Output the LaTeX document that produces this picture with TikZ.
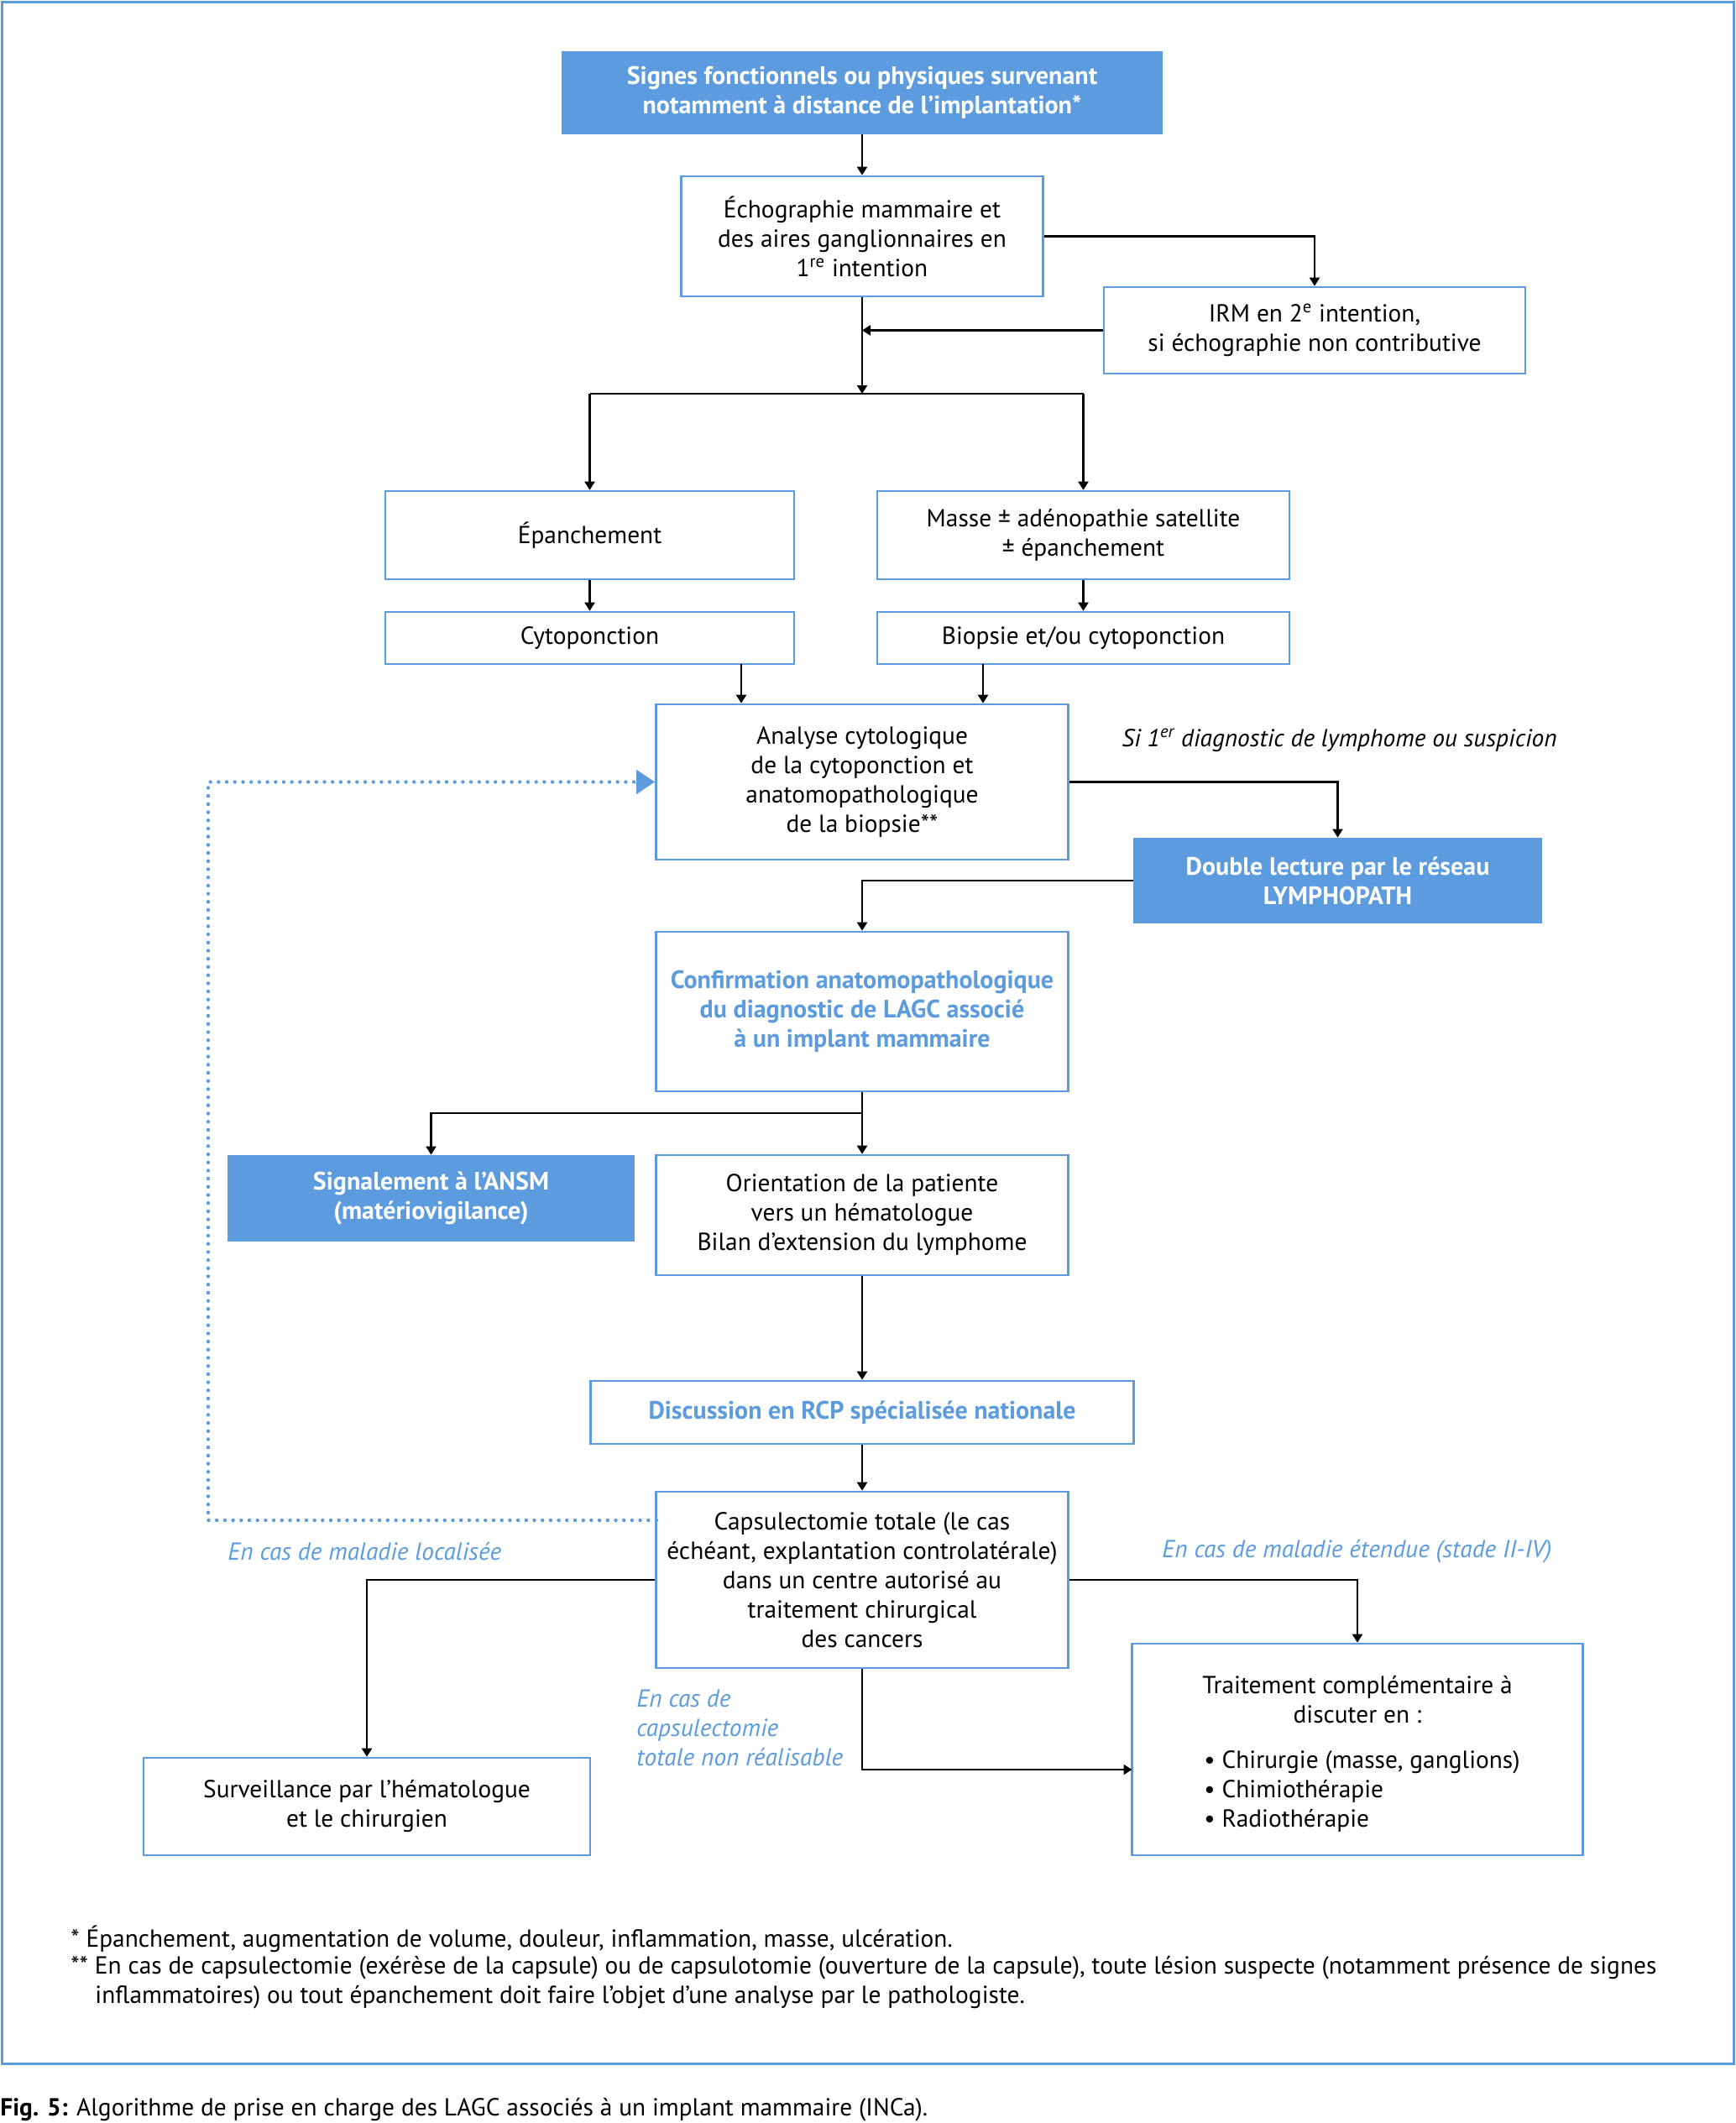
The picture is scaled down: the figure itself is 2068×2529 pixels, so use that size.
\documentclass[tikz,border=0pt]{standalone}
\usepackage{fontspec}
\setmainfont{PT Sans}
\usetikzlibrary{arrows.meta,calc}
\definecolor{bl}{HTML}{5B9BDE}
\begin{document}
\begin{tikzpicture}[x=0.5pt,y=-0.5pt,
  font=\fontsize{14.7}{17.5}\selectfont,
  sz/.style 2 args={minimum width=#1*0.5pt, minimum height=#2*0.5pt},
  wbox/.style={draw=bl, line width=1.3pt, fill=white, align=center, inner sep=0pt},
  bbox/.style={fill=bl, text=white, font=\fontsize{15}{17.5}\selectfont\bfseries, align=center, inner sep=0pt},
  btext/.style={text=bl, font=\fontsize{15}{17.5}\selectfont\bfseries},
  arr/.style={-{Triangle[length=5pt,width=6pt]}, line width=1.1pt},
  ln/.style={line width=1.1pt},
  lbl/.style={text=bl, font=\fontsize{14.7}{17.5}\selectfont\itshape, inner sep=0pt, align=left},
  plain/.style={inner sep=0pt, align=left},
  dotl/.style={draw=bl, line width=2.2pt, line cap=round, dash pattern=on 0pt off 4.85pt, -{Triangle[length=11pt,width=14pt,fill=bl]}},
]
\useasboundingbox (0,0) rectangle (2068,2529);
\draw[bl, line width=1.5pt] (2,2) rectangle (2065,2458);

% nodes
\node[bbox, sz={716}{99}] (top) at (1027,110.5) {Signes fonctionnels ou physiques survenant\\notamment à distance de l’implantation*};
\node[wbox, sz={431}{143}] (echo) at (1027,281.5) {Échographie mammaire et\\des aires ganglionnaires en\\1\textsuperscript{re} intention};
\node[wbox, sz={502}{103}] (irm) at (1566,393.5) {IRM en 2\textsuperscript{e} intention,\\si échographie non contributive};
\node[wbox, sz={487}{105}] (epan) at (702.5,637.5) {Épanchement};
\node[wbox, sz={491}{105}] (masse) at (1290.5,637.5) {Masse ± adénopathie satellite\\± épanchement};
\node[wbox, sz={487}{62}] (cyto) at (702.5,760) {Cytoponction};
\node[wbox, sz={491}{62}] (biop) at (1290.5,760) {Biopsie et/ou cytoponction};
\node[wbox, sz={491}{185}] (analyse) at (1027,931.5) {Analyse cytologique\\de la cytoponction et\\anatomopathologique\\de la biopsie**};
\node[plain, anchor=west, font=\fontsize{14.7}{17.5}\selectfont\itshape] (si) at (1336,882) {Si 1\textsuperscript{er} diagnostic de lymphome ou suspicion};
\node[bbox, sz={487}{102}] (dl) at (1593.5,1049) {Double lecture par le réseau\\LYMPHOPATH};
\node[wbox, sz={491}{190}, btext] (conf) at (1027,1205) {Confirmation anatomopathologique\\du diagnostic de LAGC associé\\à un implant mammaire};
\node[bbox, sz={485}{103}] (sig) at (513.5,1427.5) {Signalement à l’ANSM\\(matériovigilance)};
\node[wbox, sz={491}{143}] (orient) at (1027,1447.5) {Orientation de la patiente\\vers un hématologue\\Bilan d’extension du lymphome};
\node[wbox, sz={647}{75}, btext] (disc) at (1027,1682.5) {Discussion en RCP spécialisée nationale};
\node[wbox, sz={491}{210}] (caps) at (1027,1882) {Capsulectomie totale (le cas\\échéant, explantation controlatérale)\\dans un centre autorisé au\\traitement chirurgical\\des cancers};
\node[lbl, anchor=west] (loc) at (271,1848.5) {En cas de maladie localisée};
\node[lbl, anchor=west] (ete) at (1384,1848.5) {En cas de maladie étendue (stade II-IV)};
\node[lbl, anchor=north west] (nonr) at (758,2012) {En cas de\\capsulectomie\\totale non réalisable};
\node[wbox, sz={532}{116}] (surv) at (437,2152) {Surveillance par l’hématologue\\et le chirurgien};
\node[wbox, sz={537}{252}] (trait) at (1617,2084) {};
\node[plain, align=center] (traitt) at (1617,2025) {Traitement complémentaire à\\discuter en :};
\node[plain, anchor=west] (traitb) at (1434,2134) {• Chirurgie (masse, ganglions)\\• Chimiothérapie\\• Radiothérapie};

% footnotes
\node[plain, anchor=west] (fn1) at (84,2310) {* Épanchement, augmentation de volume, douleur, inflammation, masse, ulcération.};
\node[plain, anchor=west] (fn2) at (84,2344) {** En cas de capsulectomie (exérèse de la capsule) ou de capsulotomie (ouverture de la capsule), toute lésion suspecte (notamment présence de signes};
\node[plain, anchor=west] (fn3) at (113,2379) {inflammatoires) ou tout épanchement doit faire l’objet d’une analyse par le pathologiste.};
\node[plain, anchor=west] (cap) at (0,2513) {\textbf{Fig. 5:} Algorithme de prise en charge des LAGC associés à un implant mammaire (INCa).};

% connectors
\draw[arr] (top) -- (echo);
\draw[arr] (echo.east) -| (irm.north);
\coordinate (irmin) at (1027,393.5);
\draw[arr] (irm.west) -- (irmin);
\coordinate (br1) at (1027,469);
\draw[arr] (echo.south) -- (br1);
\coordinate (brl) at (702.5,469);
\coordinate (brr) at (1290.5,469);
\draw[ln] (brl) -- (brr);
\draw[arr] (brl) -- (epan.north);
\draw[arr] (brr) -- (masse.north);
\draw[arr] (epan) -- (cyto);
\draw[arr] (masse) -- (biop);
\coordinate (c1) at (883,791);
\coordinate (c2) at (1171,791);
\draw[arr] (c1) -- (c1 |- analyse.north);
\draw[arr] (c2) -- (c2 |- analyse.north);
\draw[arr] (analyse.east) -| (dl.north);
\draw[arr] (dl.west) -| (conf.north);
\draw[arr] (conf) -- (orient);
\coordinate (br2) at (1027,1326);
\draw[arr] (br2) -| (sig.north);
\draw[arr] (orient) -- (disc);
\draw[arr] (disc) -- (caps);
\draw[arr] (caps.west) -| (surv.north);
\draw[arr] (caps.east) -| (trait.north);
\coordinate (tin) at (1348.5,2108);
\draw[arr] (caps.south) |- (tin);
\coordinate (d1) at (782,1811);
\coordinate (d2) at (248,1811);
\draw[dotl] (d1) -- (d2) |- (analyse.west);
\end{tikzpicture}
\end{document}
